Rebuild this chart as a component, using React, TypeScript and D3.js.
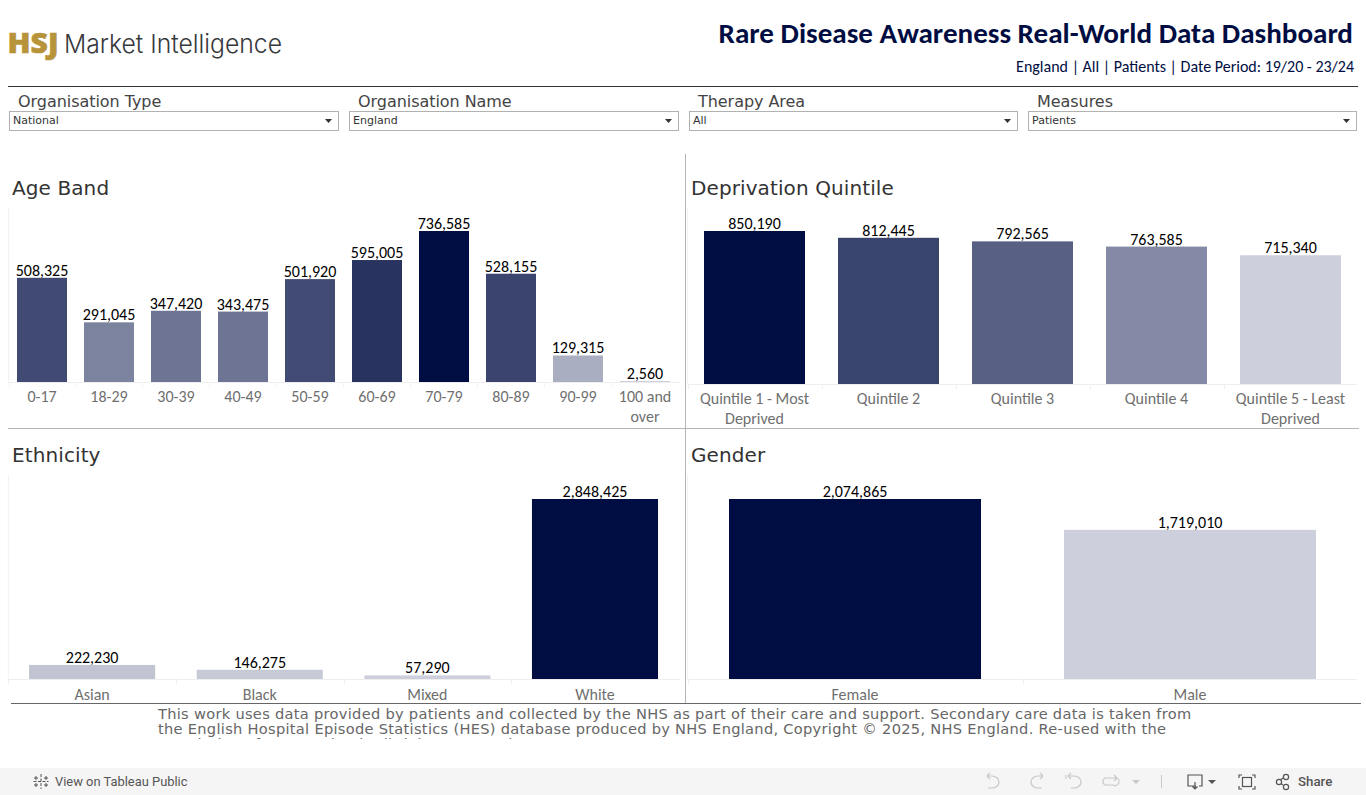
import React from "react";
import * as d3 from "d3";

const ageBands = ["0-17","18-29","30-39","40-49","50-59","60-69","70-79","80-89","90-99","100 and over"];
const ageValues = [508325,291045,347420,343475,501920,595005,736585,528155,129315,2560];
const quintiles = ["Quintile 1 - Most Deprived","Quintile 2","Quintile 3","Quintile 4","Quintile 5 - Least Deprived"];
const quintileValues = [850190,812445,792565,763585,715340];
const ethnicities = ["Asian","Black","Mixed","White"];
const ethnicityValues = [222230,146275,57290,2848425];
const genders = ["Female","Male"];
const genderValues = [2074865,1719010];
const filterLabels = ["Organisation Type","Organisation Name","Therapy Area","Measures"];
const filterValues = ["National","England","All","Patients"];
const footerLines = [
  "This work uses data provided by patients and collected by the NHS as part of their care and support. Secondary care data is taken from",
  "the English Hospital Episode Statistics (HES) database produced by NHS England, Copyright © 2025, NHS England. Re-used with the",
  "permission of NHS England. All rights reserved.",
];

const LIGHT = "#cdd0dc";
const DARK = "#000d42";
const NUM_FONT = "Carlito, Calibri, Lato, sans-serif";
const TITLE_FONT = "'DejaVu Sans', sans-serif";

type PanelProps = {
  title: string; titleY: number; cats: string[]; vals: number[];
  x0: number; x1: number; base: number; top: number;
  pIn: number; pOut: number; labelY: number; axisEnd: number; axisTop: number;
};

function wrap(label: string, maxChars: number): string[] {
  const words = label.split(" ");
  const lines: string[] = [];
  let cur = "";
  for (const w of words) {
    const t = cur ? cur + " " + w : w;
    if (t.length > maxChars && cur) { lines.push(cur); cur = w; } else cur = t;
  }
  if (cur) lines.push(cur);
  return lines;
}

function Panel({ title, titleY, cats, vals, x0, x1, base, top, pIn, pOut, labelY, axisEnd, axisTop }: PanelProps) {
  const x = d3.scaleBand<string>().domain(cats).range([x0, x1]).paddingInner(pIn).paddingOuter(pOut);
  const y = d3.scaleLinear().domain([0, d3.max(vals) as number]).range([base, top]);
  const color = d3.scaleLinear<string>()
    .domain([d3.min(vals) as number, d3.max(vals) as number])
    .range([LIGHT, DARK]);
  const step = x.step();
  const wrapChars = cats.length > 6 ? 7 : 18;
  return (
    <g>
      <text x={Math.floor(x0) + 4} y={titleY} fontFamily={TITLE_FONT} fontSize={20} fill="#333" letterSpacing={0.1}>{title}</text>
      <line x1={x0} x2={x0} y1={axisTop} y2={base + 1} stroke="#f2f2f2" />
      <line x1={x0} x2={axisEnd} y1={base + 0.5} y2={base + 0.5} stroke="#eeeeee" />
      {cats.map((c, i) => {
        const v = vals[i];
        const tickX = Math.round(x0 + step * i) + 0.5;
        const h = Math.max(1, base - y(v));
        return (
          <g key={c}>
            <line x1={tickX} x2={tickX} y1={base} y2={base + 5} stroke="#f0f0f0" />
            <rect x={x(c)} y={base - h} width={x.bandwidth()} height={h} fill={color(v)} />
            <text x={(x(c) as number) + x.bandwidth() / 2} y={y(v) - 2} textAnchor="middle" fontFamily={NUM_FONT} fontSize={16} fill="#000">
              {d3.format(",")(v)}
            </text>
            {wrap(c, wrapChars).map((ln, k) => (
              <text key={k} x={(x(c) as number) + x.bandwidth() / 2} y={labelY + k * 20} textAnchor="middle" fontFamily={NUM_FONT} fontSize={16} fill="#6f6f6f">{ln}</text>
            ))}
          </g>
        );
      })}
    </g>
  );
}

const filterXs = [9, 349, 689, 1028];
const filterWs = [330, 330, 329, 329];

function Filter({ i }: { i: number }) {
  const x = filterXs[i], w = filterWs[i];
  return (
    <g>
      <text x={x + 9} y={107} fontFamily={TITLE_FONT} fontSize={16} fill="#444" letterSpacing={-0.05}>{filterLabels[i]}</text>
      <rect x={x + 0.5} y={111.5} width={w - 1} height={19} fill="#fff" stroke="#b2b2b2" />
      <text x={x + 4} y={124} fontFamily={TITLE_FONT} fontSize={11} fill="#333">{filterValues[i]}</text>
      <path d={`M${x + w - 14},119 h7 l-3.5,4 z`} fill="#333" />
    </g>
  );
}

export default function App() {
  const icon = { fill: "none", stroke: "#c8c8c8", strokeWidth: 1.2 };
  const iconD = { fill: "none", stroke: "#555", strokeWidth: 1.2 };
  return (
    <svg width={1366} height={795} viewBox="0 0 1366 795" style={{ position: "absolute", left: 0, top: 0, display: "block", background: "#fff" }}>
      <defs>
        <clipPath id="foot"><rect x={150} y={705} width={1100} height={34} /></clipPath>
      </defs>

      {/* logo */}
      <text x={7.5} y={53} fontFamily="'Open Sans', sans-serif" fontWeight={800} fontSize={28} fill="#b7933a" stroke="#b7933a" strokeWidth={0.6} textLength={51} lengthAdjust="spacingAndGlyphs">HSJ</text>
      <text x={64} y={53} fontFamily="Inter, sans-serif" fontWeight={300} fontSize={26} fill="#37383c" textLength={218} lengthAdjust="spacingAndGlyphs">Market Intelligence</text>

      {/* heading */}
      <text x={1353} y={43} textAnchor="end" fontFamily={NUM_FONT} fontWeight={700} fontSize={29.1} fill="#000d42">Rare Disease Awareness Real-World Data Dashboard</text>
      <text x={1354} y={72} textAnchor="end" fontFamily={NUM_FONT} fontSize={16} fill="#000d42">England | All | Patients | Date Period: 19/20 - 23/24</text>
      <line x1={8} x2={1358} y1={86.5} y2={86.5} stroke="#333" />

      {filterLabels.map((_, i) => <Filter key={i} i={i} />)}

      {/* dividers */}
      <line x1={685.5} x2={685.5} y1={154} y2={703} stroke="#b5b5b5" />
      <line x1={8} x2={1359} y1={428.5} y2={428.5} stroke="#b5b5b5" />
      <line x1={11} x2={1361} y1={703.5} y2={703.5} stroke="#666" />

      <Panel title="Age Band" titleY={195} cats={ageBands} vals={ageValues} x0={8.5} x1={678.5} base={382} top={231} pIn={0.2537} pOut={0.1269} labelY={402} axisEnd={680} axisTop={208} />
      <Panel title="Deprivation Quintile" titleY={195} cats={quintiles} vals={quintileValues} x0={687.5} x1={1357.5} base={384} top={231} pIn={0.2463} pOut={0.1231} labelY={404} axisEnd={1357} axisTop={208} />
      <Panel title="Ethnicity" titleY={462} cats={ethnicities} vals={ethnicityValues} x0={8.3} x1={678.8} base={679} top={499} pIn={0.248} pOut={0.124} labelY={699.5} axisEnd={680} axisTop={475} />
      <Panel title="Gender" titleY={462} cats={genders} vals={genderValues} x0={687.5} x1={1357.5} base={679} top={499} pIn={0.2478} pOut={0.1239} labelY={699.5} axisEnd={1357} axisTop={475} />

      {/* footer */}
      <g clipPath="url(#foot)">
        {footerLines.map((t, i) => (
          <text key={i} x={158} y={719 + i * 15} fontFamily={TITLE_FONT} fontSize={14.6} letterSpacing={0.3} fill="#666">{t}</text>
        ))}
      </g>

      {/* toolbar */}
      <rect x={0} y={768} width={1366} height={27} fill="#f5f5f5" />
      <g stroke="#555" strokeWidth={1} fill="none">
        <path d="M41,774 v15 M33.5,781.5 h15" strokeDasharray="3 1.5" />
        <path d="M36,776 v4 M34,778 h4 M46,776 v4 M44,778 h4 M36,783 v4 M34,785 h4 M46,783 v4 M44,785 h4" />
      </g>
      <text x={55} y={786} fontFamily="Roboto, sans-serif" fontSize={12.9} fill="#555">View on Tableau Public</text>
      <path d="M987,776 l5,0 a7,6 0 0 1 0,12 h-4 M987,776 l3,-3 M987,776 l3,3" {...icon} />
      <path d="M1043,776 h-5 a7,6 0 0 0 0,12 h4 M1043,776 l-3,-3 M1043,776 l-3,3" {...icon} />
      <path d="M1066,775 v4 M1068,776 h6 a7,6 0 0 1 0,12 h-3 M1068,776 l3,-3 M1068,776 l3,3" {...icon} />
      <path d="M1117,778 h-12 a4,4 0 0 0 0,7 h8 a4,4 0 0 0 4,-7 M1117,778 l-3,-3 M1117,778 l-3,3" {...icon} />
      <path d="M1132,780 h8 l-4,4 z" fill="#c8c8c8" />
      <line x1={1161.5} x2={1161.5} y1={775} y2={788} stroke="#c8c8c8" />
      <path d="M1196,786 h-8 v-11 h14 v11 h-3 M1195,782 v7 M1192.5,786.5 l2.5,2.5 l2.5,-2.5" {...iconD} />
      <path d="M1208,780 h8 l-4,4 z" fill="#555" />
      <path d="M1239,778 v-3 h3 M1252,775 h3 v3 M1255,786 v3 h-3 M1242,789 h-3 v-3" {...iconD} />
      <rect x={1242.5} y={777.5} width={9} height={9} {...iconD} />
      <path d="M1283,778 l-5,3.5 l5,3.5" {...iconD} />
      <circle cx={1286} cy={777} r={2.6} {...iconD} fill="#f5f5f5" />
      <circle cx={1279} cy={782} r={2.6} {...iconD} fill="#f5f5f5" />
      <circle cx={1286} cy={787} r={2.6} {...iconD} fill="#f5f5f5" />
      <text x={1298} y={786} fontFamily="Roboto, sans-serif" fontWeight={500} fontSize={13.3} fill="#555">Share</text>
    </svg>
  );
}
